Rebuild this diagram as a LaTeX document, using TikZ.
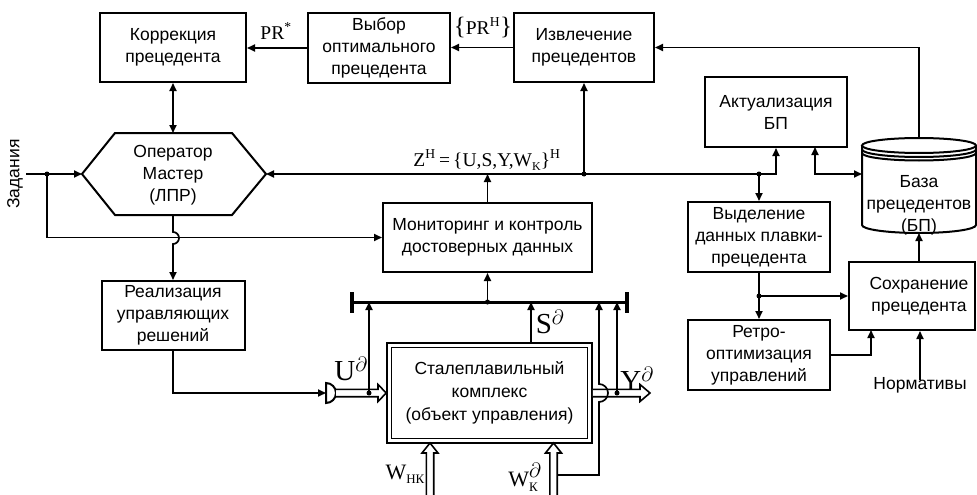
\documentclass[tikz,border=0pt]{standalone}
\usepackage{fontspec}
\setmainfont{Liberation Sans}
\newfontfamily\tnr{Liberation Serif}
\usetikzlibrary{arrows.meta,calc}
\begin{document}
\begin{tikzpicture}[x=1pt,y=-1pt,
  txt/.style={align=center, inner sep=0pt, font=\fontsize{17.5}{22}\selectfont},
  box/.style={txt, draw, line width=2pt},
  conn/.style={line width=1.7pt},
  arr/.style={conn, -{Triangle[length=8pt,width=7pt]}},
  darr/.style={conn, {Triangle[length=8pt,width=7pt]}-{Triangle[length=8pt,width=7pt]}},
  lbl/.style={inner sep=0pt, font=\tnr\fontsize{19.5}{19.5}\selectfont},
  wlbl/.style={inner sep=0pt, font=\tnr\fontsize{22}{22}\selectfont},
  biglbl/.style={inner sep=0pt, font=\tnr\fontsize{29}{29}\selectfont},
  dot/.style={circle, fill, inner sep=0pt, minimum size=5pt},
  hollow/.style={line width=1.6pt, fill=white, line join=miter},
  shp/.style={line width=2pt},
]
\useasboundingbox (0,0) rectangle (977,495);

% ---------- boxes ----------
\node[box, minimum width=146pt, minimum height=69pt] (korr) at (173,47.5) {Коррекция\\прецедента};
\node[box, minimum width=142pt, minimum height=70pt] (vyb) at (379,48) {Выбор\\оптимального\\прецедента};
\node[box, minimum width=140pt, minimum height=69pt] (izv) at (584,47.5) {Извлечение\\прецедентов};
\node[box, minimum width=142pt, minimum height=70pt] (akt) at (776,112) {Актуализация\\БП};
\node[box, minimum width=209pt, minimum height=69pt] (mon) at (487.5,237.5) {Мониторинг и контроль\\достоверных данных};
\node[box, minimum width=143pt, minimum height=69pt] (real) at (173,315.5) {Реализация\\управляющих\\решений};
\node[box, minimum width=142pt, minimum height=70pt] (vyd) at (759,237) {Выделение\\данных плавки-\\прецедента};
\node[box, minimum width=142pt, minimum height=70pt] (ret) at (759,355) {Ретро-\\оптимизация\\управлений};
\node[draw, line width=2pt, inner sep=0pt, minimum width=126pt, minimum height=68pt] (soh) at (912,296) {};
\node[txt] (sohtext) at (919,296) {Сохранение\\прецедента};

% steel complex (double border)
\node[draw, line width=1.5pt, inner sep=0pt, minimum width=205pt, minimum height=100pt] (stal) at (489.5,393) {};
\node[draw, line width=1.8pt, txt, minimum width=196pt, minimum height=91pt, font=\fontsize{17.5}{23}\selectfont] (stalin) at (489.5,393) {Сталеплавильный\\комплекс\\(объект управления)};

% hexagon operator
\coordinate (hexL) at (82,174);
\coordinate (hexR) at (266,174);
\coordinate (hexT) at (173,133);
\coordinate (hexB) at (173,215);
\draw[shp] (hexL) -- (115,133) -- (232,133) -- (hexR) -- (232,215) -- (115,215) -- cycle;
\node[txt] (hex) at (173,175) {Оператор\\Мастер\\(ЛПР)};

% database cylinder
\coordinate (dbtop) at (919,138);
\coordinate (dbbot) at (919,233);
\coordinate (dbL) at (862,174);
\draw[shp] (919,145.5) ellipse [x radius=57, y radius=7.5];
\draw[shp] (862,149.5) arc[start angle=180, end angle=0, x radius=57, y radius=7.5];
\draw[shp] (862,153) arc[start angle=180, end angle=0, x radius=57, y radius=7.5];
\draw[shp] (862,145.5) -- (862,225) arc[start angle=180, end angle=0, x radius=57, y radius=8] -- (976,145.5);
\node[txt] (dbtext) at (919,205) {База\\прецедентов\\(БП)};

% ---------- top row connectors ----------
\draw[arr] (vyb.west) -- (vyb.west -| korr.east);
\draw[arr] (izv.west) -- (izv.west -| vyb.east);
\node[lbl] (prs) at (276,31) {PR\textsuperscript{*}};
\node[lbl] (prh) at (483,27) {{\fontsize{25}{25}\selectfont\{}PR\textsuperscript{H}{\fontsize{25}{25}\selectfont\}}};
\draw[arr] (dbtop) |- (izv.east);
\draw[darr] (korr.south) -- (hexT);

% ---------- Задания ----------
\node[txt, rotate=90] (zad) at (15,174) {Задания};
\coordinate (zin) at (26,174);
\coordinate (zdot) at (47,174);
\draw[arr] (zin) -- (hexL);
\node[dot] at (zdot) {};
\draw[arr] (zdot) |- (mon.west);

% operator -> realization (with hop)
\draw[arr] (hexB) -- (173,232) arc[start angle=-90, end angle=90, radius=6] -- (real.north);

% realization -> D-shape -> steel complex
\coordinate (dL) at (326,393);
\draw[shp] (326,383) -- (326,403) arc[start angle=90, end angle=-90, radius=10] -- cycle;
\draw[arr] (real.south) |- (dL);
\draw[hollow] (336,389.3) -- (378,389.3) -- (378,384.5) -- (stal.west) -- (378,401.5) -- (378,396.7) -- (336,396.7);
\node[biglbl] (ulab) at (351,369) {U\textsuperscript{$\partial$}};

% ---------- bus bar ----------
\coordinate (barL) at (352,302);
\coordinate (barR) at (627,302);
\draw[line width=3pt] (barL) -- (barR);
\draw[line width=3.5pt] (352,292) -- (352,313);
\draw[line width=3.5pt] (627,292) -- (627,313);
\coordinate (udot) at (369,393);
\node[dot] at (udot) {};
\draw[arr] (udot) -- (udot |- barL);
\coordinate (bdot) at (487.5,302);
\node[dot] at (bdot) {};
\draw[arr] (bdot) -- (mon.south);
\coordinate (barS) at (531,302);
\draw[arr] (stal.north -| barS) -- (barS);
\node[biglbl] (slab) at (550,322) {S\textsuperscript{$\partial$}};

% Y output
\coordinate (yend) at (650,393);
\draw[hollow] (stal.east |- 0,389.3) -- (640,389.3) -- (640,384.5) -- (yend) -- (640,401.5) -- (640,396.7) -- (stal.east |- 0,396.7);
\node[biglbl] (ylab) at (637,379) {Y\textsuperscript{$\partial$}};
\coordinate (ydot) at (617,393);
\node[dot] at (ydot) {};
\draw[arr] (ydot) -- (ydot |- barL);

% disturbances
\coordinate (whk) at (430,443);
\coordinate (wk) at (553.5,443);
\draw[hollow] (426.3,497) -- (426.3,453) -- (422,453) -- (whk) -- (438,453) -- (433.7,453) -- (433.7,497);
\draw[hollow] (549.8,497) -- (549.8,453) -- (545.5,453) -- (wk) -- (561.5,453) -- (557.2,453) -- (557.2,497);
\node[wlbl] (whklab) at (405,474) {W{\fontsize{13}{13}\selectfont\raisebox{-4pt}{НК}}};
\node[wlbl] (wklab) at (523,477) {W\rlap{\raisebox{9pt}{$\partial$}}{\fontsize{13}{13}\selectfont\raisebox{-5pt}{К}}};
\draw[arr] (557.2,475) -- (599,475) -- (599,402) arc[start angle=90, end angle=-90, radius=9] -- (599,302);

% ---------- Z line ----------
\draw[darr] (hexR) -| (akt.south);
\draw[arr] (mon.north) -- (mon.north |- hexR);
\node[lbl] (zlab) at (487,160) {Z\textsuperscript{H}\,=\,\{U,S,Y,W{\fontsize{12}{12}\selectfont\raisebox{-4pt}{K}}\}\textsuperscript{H}};
\coordinate (idot) at (584,174);
\node[dot] at (idot) {};
\draw[arr] (idot) -- (izv.south);
\coordinate (vdot) at (759,174);
\node[dot] at (vdot) {};
\draw[arr] (vdot) -- (vyd.north);
\coordinate (aktR) at (815,147);
\draw[darr] (aktR) |- (dbL);

% ---------- right lower part ----------
\draw[arr] (vyd.south) -- (ret.north);
\coordinate (rdot) at (759,296);
\node[dot] at (rdot) {};
\draw[arr] (rdot) -- (rdot -| soh.west);
\coordinate (sohB) at (871,330);
\draw[arr] (ret.east) -| (sohB);
\draw[arr] (soh.north -| dbbot) -- (dbbot);
\node[txt] (norm) at (920,385) {Нормативы};
\draw[arr] ([yshift=-3pt]norm.north) -- (norm.north |- soh.south);
\end{tikzpicture}
\end{document}
